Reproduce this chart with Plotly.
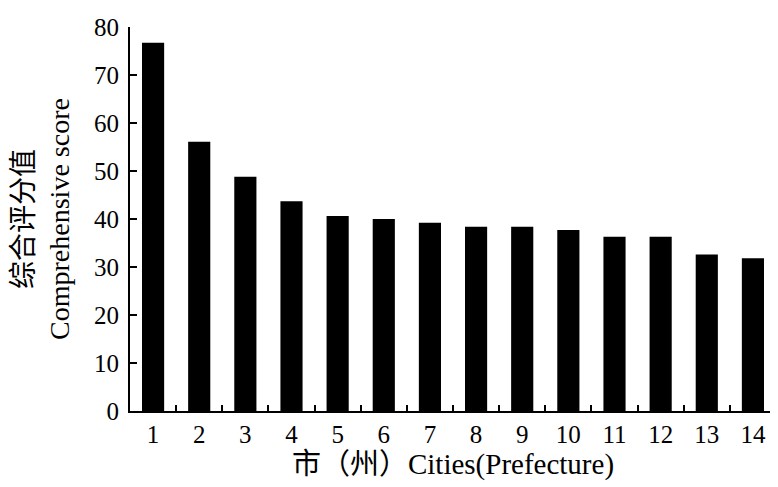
import plotly.graph_objects as go

cities = ["1", "2", "3", "4", "5", "6", "7", "8", "9", "10", "11", "12", "13", "14"]
scores = [76.7, 56.1, 48.8, 43.7, 40.6, 40.0, 39.2, 38.4, 38.4, 37.7, 36.3, 36.3, 32.6, 31.8]
y_ticks = [0, 10, 20, 30, 40, 50, 60, 70, 80]

FONT = "Liberation Serif, Noto Sans CJK SC, serif"

fig = go.Figure(
    go.Bar(
        x=cities,
        y=scores,
        marker=dict(color="black", line=dict(width=0)),
        width=0.48,
    )
)

# page body has an 8px margin, so the figure is sized/offset to compensate
fig.update_layout(
    width=770,
    height=479,
    margin=dict(l=122, r=2, t=19, b=76),
    paper_bgcolor="white",
    plot_bgcolor="white",
    showlegend=False,
    font=dict(family=FONT, color="black", size=24),
)

fig.update_xaxes(
    type="category",
    showline=True,
    linecolor="black",
    linewidth=2,
    ticks="inside",
    tickson="boundaries",
    ticklen=6,
    tickwidth=1.5,
    tickcolor="black",
    showgrid=False,
    tickfont=dict(family=FONT, size=25),
    title=dict(text="市（州）Cities(Prefecture)", font=dict(family=FONT, size=29), standoff=7),
)

fig.update_yaxes(
    range=[0, 80],
    tickvals=y_ticks,
    showline=True,
    linecolor="black",
    linewidth=2,
    ticks="inside",
    ticklen=7,
    tickwidth=1.5,
    tickcolor="black",
    showgrid=False,
    zeroline=False,
    tickfont=dict(family=FONT, size=25),
    ticklabelstandoff=4,
    title=dict(text="综合评分值<br>Comprehensive score", font=dict(family=FONT, size=28), standoff=20),
)

fig.write_html("out.html")
